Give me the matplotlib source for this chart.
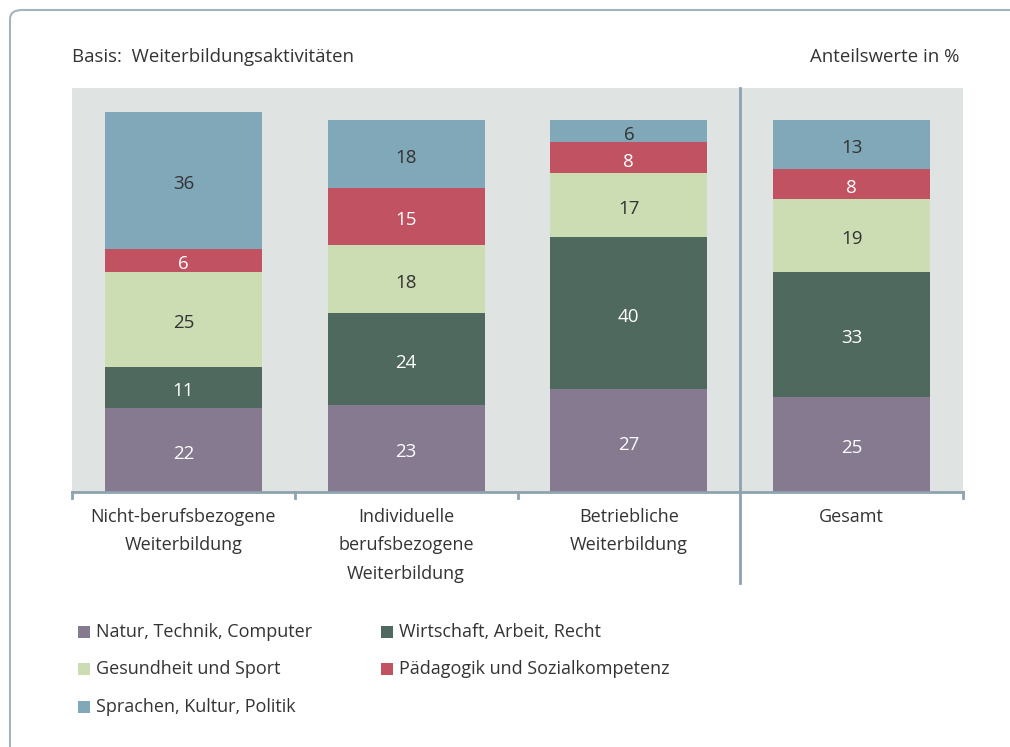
import numpy as np
import matplotlib.pyplot as plt
from matplotlib.patches import FancyBboxPatch, Rectangle
from matplotlib.transforms import offset_copy

categories = ["Nicht-berufsbezogene\nWeiterbildung",
              "Individuelle\nberufsbezogene\nWeiterbildung",
              "Betriebliche\nWeiterbildung",
              "Gesamt"]
series_names = ["Natur, Technik, Computer", "Wirtschaft, Arbeit, Recht",
                "Gesundheit und Sport", "Pädagogik und Sozialkompetenz",
                "Sprachen, Kultur, Politik"]
natur = [22, 23, 27, 25]
wirtschaft = [11, 24, 40, 33]
gesundheit = [25, 18, 17, 19]
paedagogik = [6, 15, 8, 8]
sprachen = [36, 18, 6, 13]

series = [natur, wirtschaft, gesundheit, paedagogik, sprachen]
colors = ["#857a90", "#4f695e", "#ccdcb3", "#c05262", "#80a8b9"]
label_colors = ["white", "white", "#333333", "white", "#333333"]
txt = "#333333"
line_col = "#8ea3ae"

plt.rcParams['font.family'] = ['Open Sans', 'DejaVu Sans']

W, H = 1010, 747
fig = plt.figure(figsize=(W / 100, H / 100), dpi=100)

# outer frame
frame = FancyBboxPatch((10 / W, -0.2), 1.2, (H - 10) / H + 0.2,
                       boxstyle="round,pad=0,rounding_size=0.012",
                       transform=fig.transFigure, fc="white", ec="#a3b4bc",
                       lw=1.5, zorder=-5)
fig.patches.append(frame)

ax = fig.add_axes([72 / W, 1 - 492 / H, (963 - 72) / W, (492 - 88) / H])
ax.set_zorder(2)
ax.set_facecolor("#dfe3e2")
lbl_tr = offset_copy(ax.transData, fig=fig, x=0, y=-4, units="dots")
x = np.arange(len(categories))
bottom = np.zeros(len(categories))
for vals, c, lc in zip(series, colors, label_colors):
    vals = np.array(vals, dtype=float)
    ax.bar(x, vals, bottom=bottom, width=0.705, color=c, zorder=2)
    for xi, b, v in zip(x, bottom, vals):
        ax.text(xi, b + v / 2, f"{int(v)}", ha="center", va="center",
                color=lc, fontsize=13.5, zorder=3, transform=lbl_tr)
    bottom += vals

ax.set_xlim(-0.5, 3.5)
ax.set_ylim(0, 106.3)
for s in ax.spines.values():
    s.set_visible(False)
ax.set_yticks([])
ax.set_xticks([])
ax.axhline(0, color=line_col, lw=2, zorder=4, clip_on=False)
for b in [-0.5, 0.5, 1.5, 3.5]:
    ax.plot([b, b], [0, -1.5], color=line_col, lw=2, clip_on=False, zorder=4)
ax.plot([2.5, 2.5], [106.3, -24], color=line_col, lw=2, clip_on=False, zorder=4)

for xi, cat in zip(x, categories):
    ax.text(xi, -4.3, cat, ha="center", va="top", color=txt, fontsize=13,
            linespacing=1.72)

fig.text(72 / W, 1 - 57 / H, "Basis:  Weiterbildungsaktivitäten", ha="left",
         va="center", color=txt, fontsize=13.4)
fig.text(959 / W, 1 - 57 / H, "Anteilswerte in %", ha="right", va="center",
         color=txt, fontsize=13.4)

# legend
leg_pos = [(72, 632), (375, 632), (72, 669), (375, 669), (72, 707)]
for (lx, ly), name, c in zip(leg_pos, series_names, colors):
    fig.patches.append(Rectangle((lx / W + 0.006, 1 - (ly + 6) / H), 12 / W, 12 / H,
                                 transform=fig.transFigure, fc=c, ec="none"))
    fig.text((lx + 24) / W, 1 - ly / H, name, ha="left", va="center",
             color=txt, fontsize=13)

fig.savefig("out.png", dpi=100)
